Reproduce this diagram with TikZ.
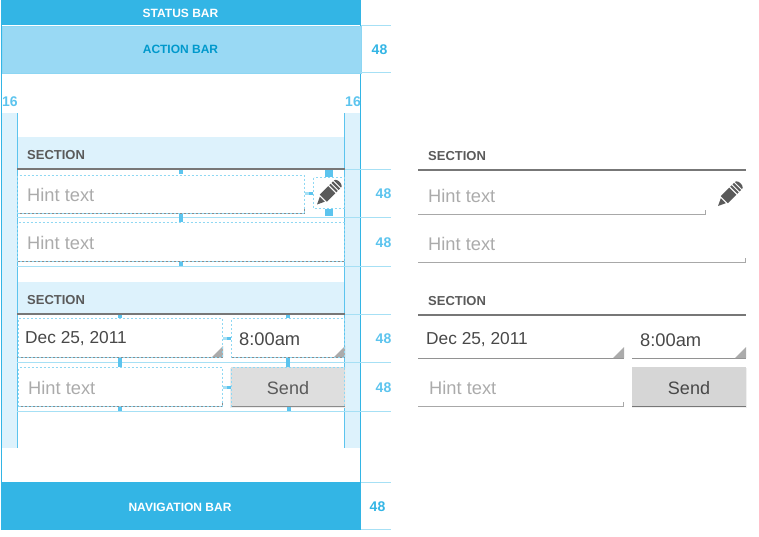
\documentclass[tikz,border=0pt]{standalone}
\usepackage{fontspec}
\setmainfont{Liberation Sans}
\definecolor{holo}{HTML}{33B5E5}
\definecolor{barlt}{HTML}{99D9F4}
\definecolor{guide}{HTML}{A6E0F5}
\definecolor{gut}{HTML}{DDF2FC}
\definecolor{tick}{HTML}{5CC4EE}
\definecolor{dash}{HTML}{8FD8F3}
\definecolor{ink}{HTML}{5A5A5A}
\definecolor{hint}{HTML}{ABABAB}
\definecolor{rule}{HTML}{777777}
\definecolor{under}{HTML}{A8A8A8}
\definecolor{actiontext}{HTML}{0099CC}
\tikzset{
 x=1pt,y=-1pt,
 barlabel/.style={text=white,font=\fontsize{12}{12}\selectfont\bfseries,inner sep=0pt},
 seclabel/.style={anchor=west,text=ink,inner sep=0pt,font=\fontsize{13}{13}\selectfont\bfseries},
 hinttext/.style={anchor=west,text=hint,inner sep=0pt,font=\fontsize{18.3}{18}\selectfont},
 valtext/.style={anchor=west,text=ink!80!black,inner sep=0pt,font=\fontsize{17.3}{18}\selectfont},
 timetext/.style={anchor=west,text=ink!80!black,inner sep=0pt,font=\fontsize{18.3}{18}\selectfont},
 dimlabel/.style={text=tick,inner sep=0pt,font=\fontsize{14}{14}\selectfont\bfseries},
 guideline/.style={draw=guide,line width=1pt},
 dashbox/.style={draw=dash,line width=0.8pt,dash pattern=on 2pt off 2pt},
 underline/.style={draw=under,line width=1pt},
 leftunder/.style={draw=rule!85,line width=0.9pt},
 darkrule/.style={draw=rule,line width=2pt},
 tickmark/.style={fill=tick,draw=none},
 pencil/.pic={
  \fill[ink] (0,0) -- (7.5,-3.5) -- (7.5,3.5) -- cycle;
  \fill[ink] (9,-5) -- (21,-5) -- (21,5) -- (9,5) -- cycle;
  \fill[ink] (22.3,-5) rectangle (24.3,5);
  \fill[ink] (25.6,-5) rectangle (27.6,5);
  \fill[ink] (28.9,-5) -- (30.5,-4.5) .. controls (32.5,-2) and (32.5,2) .. (30.5,4.5) -- (28.9,5) -- cycle;
 }
}
\begin{document}
\begin{tikzpicture}
\useasboundingbox (0,0) rectangle (759,536);
% gutters
\fill[gut] (2,113) rectangle (17,448);
\fill[gut] (345,113) rectangle (360,448);
% sections left
\fill[gut] (17,137) rectangle (345,168);
\fill[gut] (17,282) rectangle (345,313);
\draw[tick,line width=0.8pt] (17.5,113) -- (17.5,448);
\draw[tick,line width=0.8pt] (344.5,113) -- (344.5,448);
% frame
\draw[holo,line width=1pt] (1.5,25) -- (1.5,482);
\draw[holo,line width=1pt] (360.5,0) -- (360.5,482);
% bars
\node[fill=holo,minimum width=359.5pt,minimum height=25pt,anchor=north west,inner sep=0pt] (statusbar) at (1,0) {};
\node[barlabel] at (180.5,13) {STATUS BAR};
\node[fill=barlt,draw=tick!70,line width=0.8pt,minimum width=359pt,minimum height=47pt,anchor=north west,inner sep=0pt] (actionbar) at (1.5,25.5) {};
\node[barlabel,text=actiontext] at (180.5,49) {ACTION BAR};
\node[fill=holo,minimum width=359.5pt,minimum height=48pt,anchor=north west,inner sep=0pt] (navbar) at (1,482) {};
\node[barlabel] at (180,507) {NAVIGATION BAR};
% outer guides
\foreach \yy in {25.5,72.5,482.5,529.5} \draw[guideline] (361,\yy) -- (391,\yy);
\foreach \yy in {169.5,217.5,266.5,314.5,362.5,411.5} {
  \draw[guideline] (345,\yy) -- (391,\yy);
}
\foreach \yy in {217.5,266.5,362.5,411.5} \draw[guideline] (17,\yy) -- (345,\yy);
\draw[darkrule] (17,169) -- (345,169);
\draw[darkrule] (17,314) -- (345,314);
\node[seclabel] at (27,155) {SECTION};
\node[seclabel] at (27,300) {SECTION};
% row 1
\draw[leftunder] (17,213.5) -- (304.5,213.5) -- (304.5,209);
\draw[dashbox] (17.5,213.5) -- (17.5,175.5) -- (304.5,175.5) -- (304.5,213.5) -- cycle;
\draw[dashbox] (313.5,177.5) rectangle (344.5,208.5);
\node[hinttext] at (27,195) {Hint text};
\path (317,204.5) pic[rotate=45] {pencil};
% row 2
\draw[leftunder] (17,261.5) -- (344.5,261.5);
\draw[dashbox] (17.5,261.5) -- (17.5,222.5) -- (344.5,222.5) -- (344.5,261.5) -- cycle;
\node[hinttext] at (27,243) {Hint text};
% row 3
\draw[leftunder] (17,357.5) -- (223,357.5);
\draw[leftunder] (231,357.5) -- (345,357.5);
\fill[hint] (223,346) -- (223,357) -- (212,357) -- cycle;
\fill[hint] (345,346) -- (345,357) -- (334,357) -- cycle;
\draw[dashbox] (18,357.5) -- (18,318.5) -- (222.5,318.5) -- (222.5,357.5) -- cycle;
\draw[dashbox] (231.5,357.5) -- (231.5,318.5) -- (344.5,318.5) -- (344.5,357.5) -- cycle;
\node[valtext] at (25,339) {Dec 25, 2011};
\node[timetext] at (239,339) {8:00am};
% row 4
\draw[leftunder] (18,406.5) -- (222.5,406.5) -- (222.5,402);
\draw[dashbox] (18.5,406.5) -- (18.5,367.5) -- (222.5,367.5) -- (222.5,406.5) -- cycle;
\node[hinttext] at (28,388) {Hint text};
\fill[black!7] (230,368) rectangle (346,408);
\node[fill=black!13,minimum width=114pt,minimum height=39pt,anchor=north west,inner sep=0pt] (sendL) at (231,367) {};
\draw[rule!85,line width=0.8pt] (231,406.5) -- (345,406.5);
\draw[dashbox] (231.5,406.5) -- (231.5,367.5) -- (344.5,367.5) -- (344.5,406.5);
\node[text=ink,inner sep=0pt,font=\fontsize{18}{18}\selectfont] at (288,388) {Send};
% ticks
\fill[tickmark] (325,170) rectangle (333,177);
\fill[tickmark] (325,209) rectangle (333,216);
\fill[guide] (305,192) rectangle (309,195);
\fill[tickmark] (309,192) rectangle (313,195);
\foreach \xa/\ya/\xb/\yb in {179/170/183/174, 179/214/183/222, 179/262/183/266,
  118/315/122/318, 118/358/122/367, 118/407/122/411,
  286/315/290/318, 286/358/290/367, 287/407/291/411}
  \fill[tickmark] (\xa,\ya) rectangle (\xb,\yb);
\fill[guide] (223,337) rectangle (227,340);
\fill[tickmark] (227,337) rectangle (231,340);
\fill[guide] (223,386) rectangle (227,389);
\fill[tickmark] (227,386) rectangle (231,389);
% dimension labels
\node[dimlabel,text=holo] (d1) at (379.5,49.5) {48};
\node[dimlabel] (d2) at (383.5,193.5) {48};
\node[dimlabel] (d3) at (383.5,243) {48};
\node[dimlabel] (d4) at (383.5,338.5) {48};
\node[dimlabel] (d5) at (383.5,387.5) {48};
\node[dimlabel,text=holo] (d6) at (377.5,506.5) {48};
\node[dimlabel] (d7) at (10,102) {16};
\node[dimlabel] (d8) at (353,102) {16};
% right panel
\node[seclabel] at (428,156) {SECTION};
\draw[darkrule] (418,170) -- (746,170);
\node[hinttext] at (428,196) {Hint text};
\draw[underline] (418,214.5) -- (705.5,214.5) -- (705.5,210);
\path (718,206) pic[rotate=45] {pencil};
\node[hinttext] at (428,244) {Hint text};
\draw[underline] (418,262.5) -- (745.5,262.5) -- (745.5,258);
\node[seclabel] at (428,301) {SECTION};
\draw[darkrule] (418,315) -- (746,315);
\node[valtext] at (426,340) {Dec 25, 2011};
\node[timetext] at (640,340) {8:00am};
\draw[underline,draw=rule!80] (418,358.5) -- (624,358.5);
\draw[underline,draw=rule!80] (632,358.5) -- (746,358.5);
\fill[hint] (624,347) -- (624,358) -- (613,358) -- cycle;
\fill[hint] (746,347) -- (746,358) -- (735,358) -- cycle;
\node[hinttext] at (429,388) {Hint text};
\draw[underline] (418,406.5) -- (623.5,406.5) -- (623.5,402);
\fill[black!6] (631.5,368) rectangle (746.5,408);
\node[fill=black!16,minimum width=114pt,minimum height=39pt,anchor=north west,inner sep=0pt] (sendR) at (632,367) {};
\draw[rule,line width=1pt] (632,406.5) -- (746,406.5);
\node[text=ink!80!black,inner sep=0pt,font=\fontsize{18}{18}\selectfont] at (689,388) {Send};
\end{tikzpicture}
\end{document}
